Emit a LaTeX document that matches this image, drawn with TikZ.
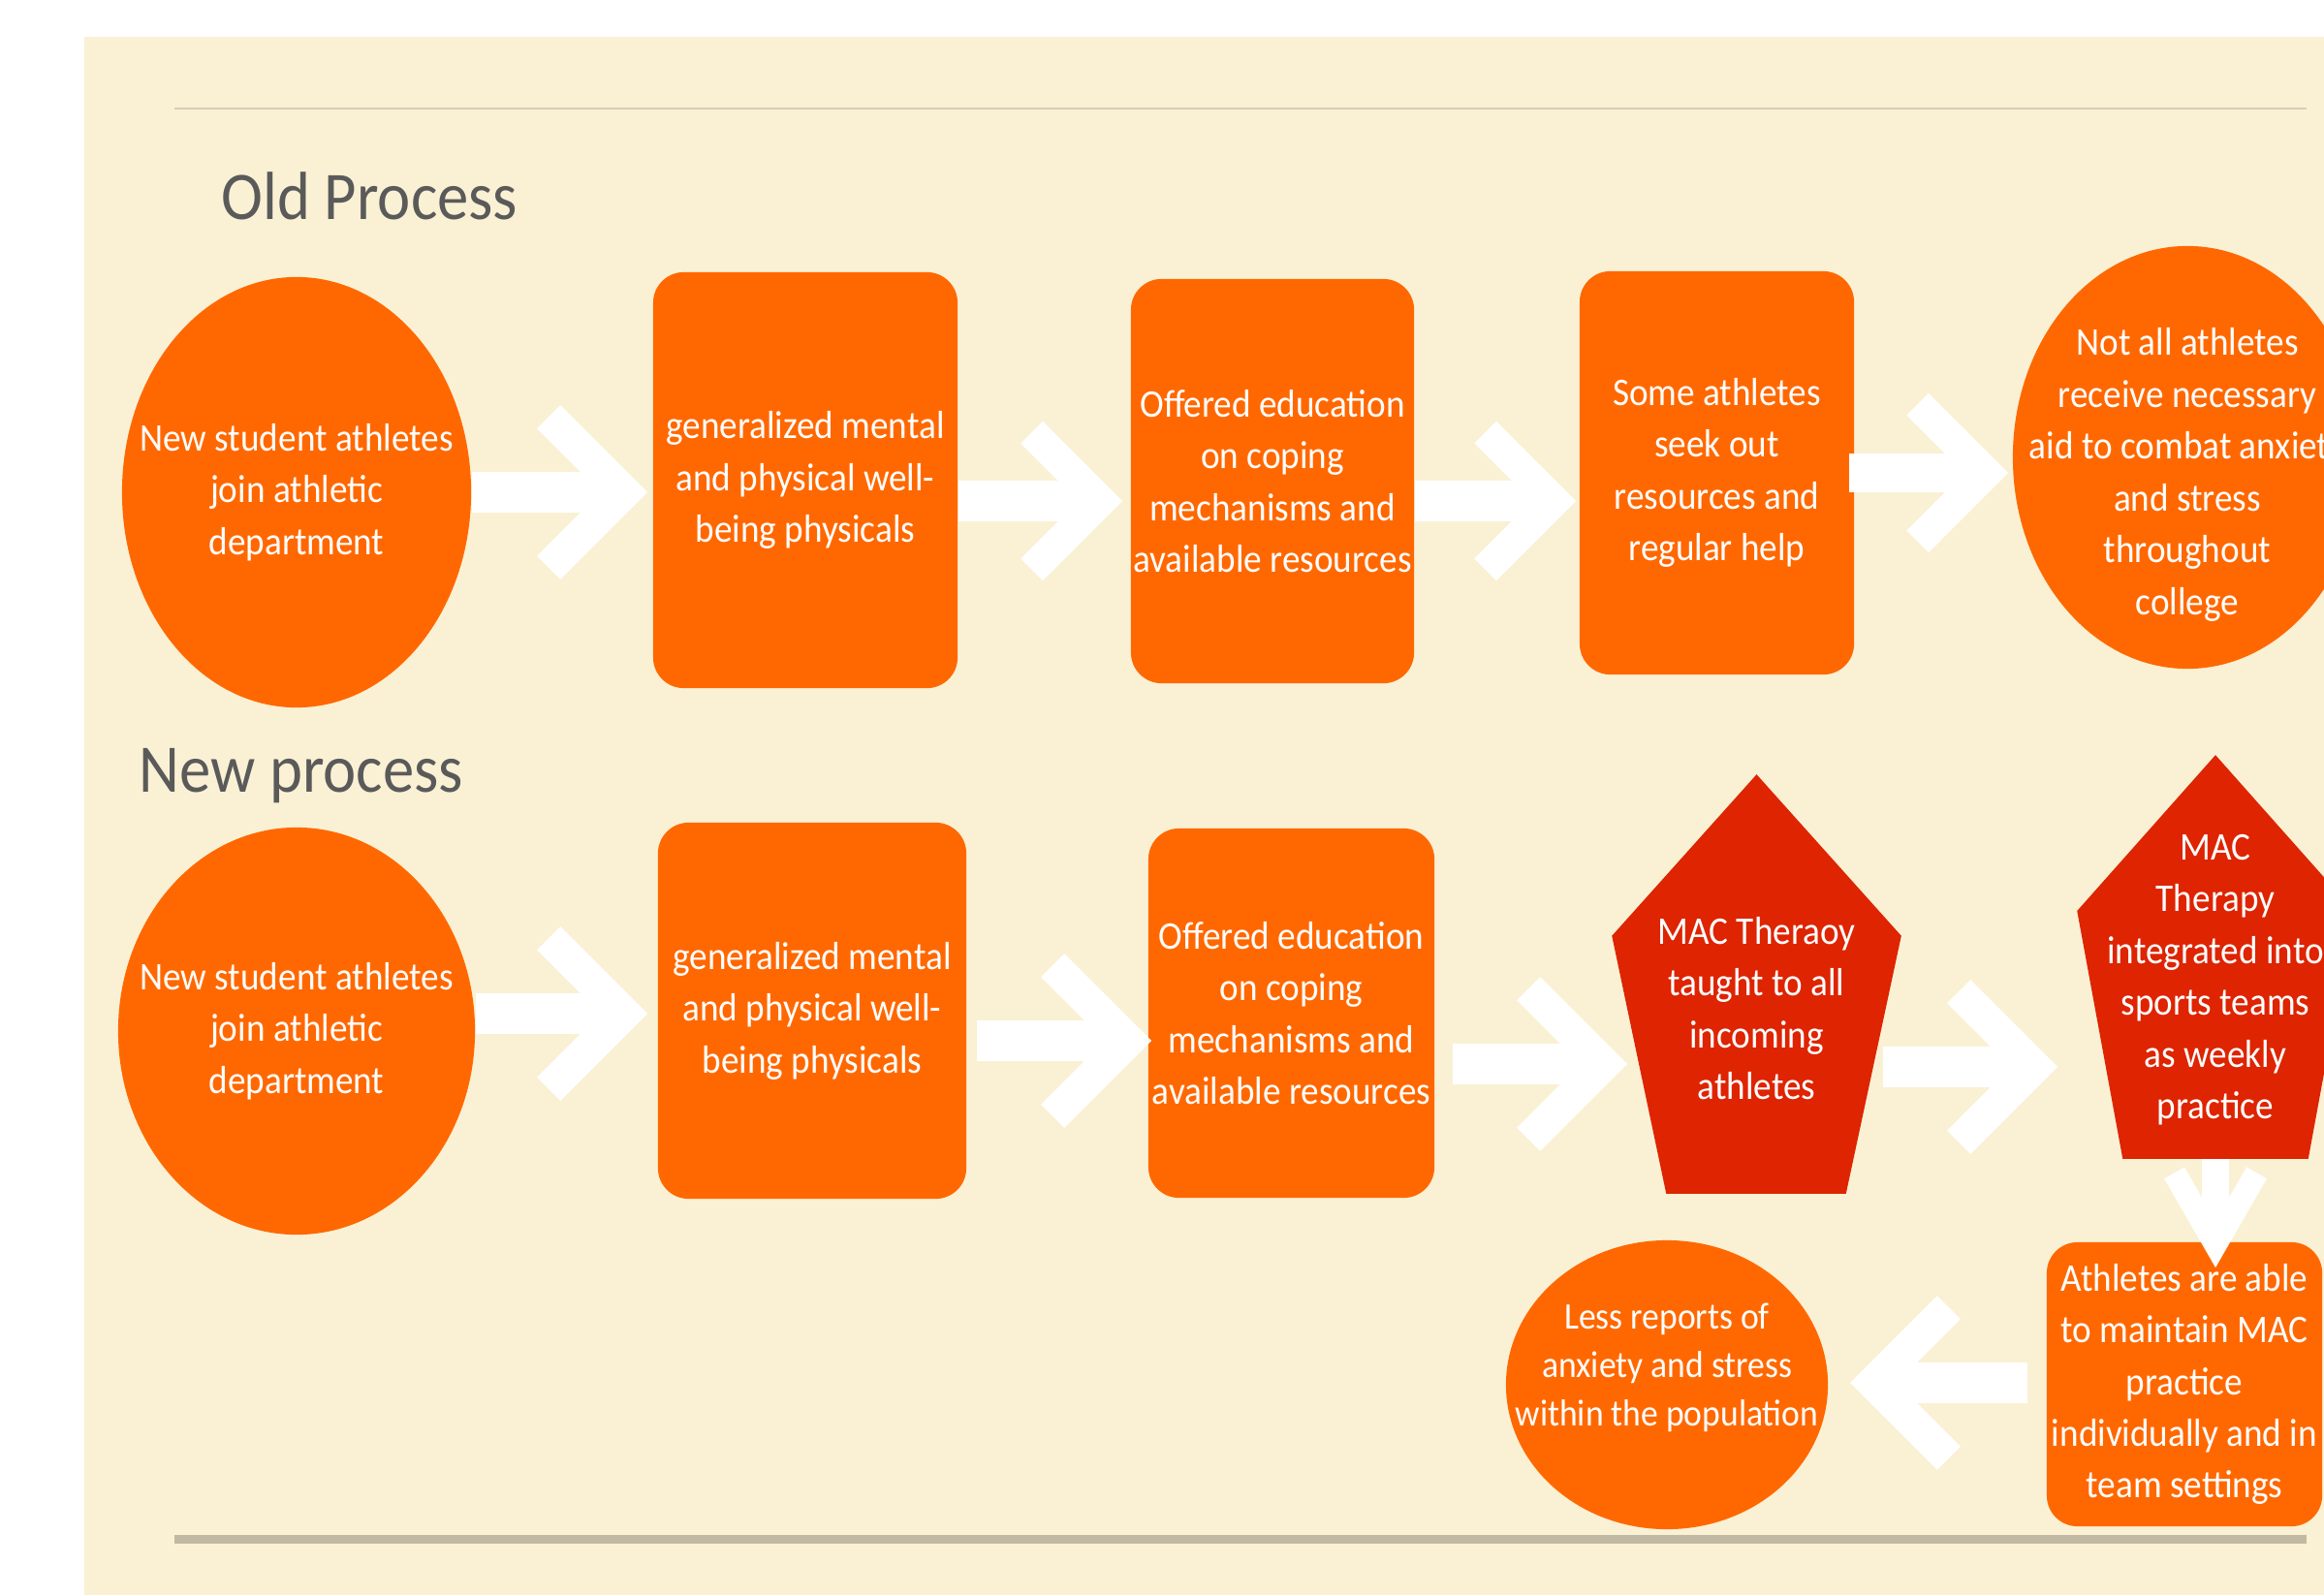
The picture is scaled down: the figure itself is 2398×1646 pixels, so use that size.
\documentclass[tikz,border=0pt]{standalone}
\usepackage{fontspec}
\setmainfont{Carlito}[FakeStretch=0.92]
\usetikzlibrary{shapes.geometric,calc}

\definecolor{paper}{RGB}{250,241,212}
\definecolor{flame}{RGB}{255,104,0}
\definecolor{macred}{RGB}{222,36,0}
\definecolor{titlegray}{RGB}{90,90,90}
\definecolor{rulelight}{RGB}{214,206,184}
\definecolor{ruledark}{RGB}{193,185,162}

% one drawing unit = 0.01cm
\newcommand\pxw{0.28453pt}
\newcommand\nodefont{\fontsize{11.5pt}{15.2pt}\selectfont}
\newcommand\smallnodefont{\fontsize{11pt}{14.2pt}\selectfont}
\newcommand\headfont{\fontsize{20pt}{24pt}\selectfont}

% white block arrow: shaft plus open chevron head
% [#1] extra shaft options, #2 start, #3 outer tip, #4 direction (deg),
% #5 shaft width, #6 chevron stroke width, #7 chevron arm length, #8 chevron half-angle
\newcommand\flowarrow[8][]{%
  \path (#3) ++(#4+180:{0.5*#6/sin(#8)}) coordinate (fa-v);
  \draw[arrowbody, line width=#5*\pxw, #1] (#2) -- (fa-v);
  \draw[arrowbody, line width=#6*\pxw]
    ($(fa-v)+(#4+180-#8:#7)$) -- (fa-v) -- ($(fa-v)+(#4+180+#8:#7)$);
}

\begin{document}
\begin{tikzpicture}[x=0.01cm, y=-0.01cm,
  ell/.style={ellipse, fill=flame, inner sep=0pt},
  box/.style={rectangle, rounded corners=9pt, fill=flame, inner sep=0pt,
              text=white, align=center, font=\nodefont},
  lbl/.style={text=white, align=center, font=\nodefont, inner sep=0pt},
  heading/.style={text=titlegray, font=\headfont, anchor=base west, inner sep=0pt},
  arrowbody/.style={draw=white, line cap=butt, line join=miter, miter limit=10}]

\useasboundingbox (0,0) rectangle (2398,1646);
\fill[white] (0,0) rectangle (2398,1646);
\fill[paper] (87,38) rectangle (2398,1646);

% rules
\draw[rulelight, line width=2*\pxw] (180,112) -- (2380,112);
\draw[ruledark, line width=9*\pxw] (180,1588) -- (2380,1588);

% headings
\node[heading] (hOld) at (228,227) {Old Process};
\node[heading] (hNew) at (143,817) {New process};

% ---------------- old process ----------------
\node[ell, minimum width=3.6cm, minimum height=4.44cm,
  label={[lbl]center:{New student athletes\\join athletic\\department}}]
  (o1) at (306,508) {};
\node[box, minimum width=3.14cm, minimum height=4.29cm] (o2) at (831,495.5)
  {generalized mental\\and physical well-\\being physicals};
\node[box, minimum width=2.92cm, minimum height=4.17cm] (o3) at (1313,496.5)
  {Offered education\\on coping\\mechanisms and\\available resources};
\node[box, minimum width=2.83cm, minimum height=4.16cm] (o4) at (1771.5,488)
  {Some athletes\\seek out\\resources and\\regular help};
\node[ell, minimum width=3.6cm, minimum height=4.36cm,
  label={[lbl, yshift=-0.18cm]center:{Not all athletes\\receive necessary\\aid to combat anxiety\\and stress\\throughout\\college}}]
  (o5) at (2257,472) {};

% ---------------- new process ----------------
\node[ell, minimum width=3.68cm, minimum height=4.2cm,
  label={[lbl]center:{New student athletes\\join athletic\\department}}]
  (n1) at (306,1064) {};
\node[box, minimum width=3.18cm, minimum height=3.88cm] (n2) at (838,1043)
  {generalized mental\\and physical well-\\being physicals};
\node[box, minimum width=2.95cm, minimum height=3.81cm] (n3) at (1332.5,1045.5)
  {Offered education\\on coping\\mechanisms and\\available resources};

% pentagons
\node[inner sep=0pt, minimum width=2.97cm, minimum height=4.31cm] (n4) at (1812.5,1015.5) {};
\fill[macred] (n4.north) -- ($(n4.north west)!0.385!(n4.south west)$)
  -- ([xshift=0.56cm]n4.south west) -- ([xshift=-0.57cm]n4.south east)
  -- ($(n4.north east)!0.385!(n4.south east)$) -- cycle;
\node[lbl, yshift=-0.25cm] (n4t) at (n4.center)
  {MAC Theraoy\\taught to all\\incoming\\athletes};

\node[inner sep=0pt, minimum width=2.84cm, minimum height=4.15cm] (n5) at (2286,987.5) {};
\fill[macred] (n5.north) -- ($(n5.north west)!0.386!(n5.south west)$)
  -- ([xshift=0.47cm]n5.south west) -- ([xshift=-0.47cm]n5.south east)
  -- ($(n5.north east)!0.386!(n5.south east)$) -- cycle;
\node[lbl, yshift=-0.235cm] (n5t) at (n5.center)
  {MAC\\Therapy\\integrated into\\sports teams\\as weekly\\practice};

\node[box, minimum width=2.84cm, minimum height=2.93cm] (n6) at (2254,1428.5)
  {Athletes are able\\to maintain MAC\\practice\\individually and in\\team settings};
\node[ell, minimum width=3.32cm, minimum height=2.98cm,
  label={[lbl, font=\smallnodefont, yshift=0.18cm]center:{Less reports of\\anxiety and stress\\within the population}}]
  (n7) at (1720,1429) {};

% ---------------- arrows ----------------
\coordinate (ta1) at (668,508);
\coordinate (ta2) at (1158,517);
\coordinate (ta3) at (1626,517);
\coordinate (ta4) at (2072,488);
\coordinate (tb1) at (668,1046);
\coordinate (tb2) at (1188,1074);
\coordinate (tb3) at (1679,1098);
\coordinate (tb4) at (2123,1101);
\coordinate (tb5) at (2286,1308);
\coordinate (tb6) at (1909,1427);

\flowarrow{o1.east |- ta1}{ta1}{0}{42}{34}{110}{45}
\flowarrow{o2.east |- ta2}{ta2}{0}{42}{32}{100}{45}
\flowarrow{o3.east |- ta3}{ta3}{0}{42}{32}{100}{45}
\flowarrow[shorten <=-6*\pxw]{o4.east |- ta4}{ta4}{0}{40}{32}{100}{45}

\flowarrow{n1.east |- tb1}{tb1}{0}{42}{34}{110}{45}
\flowarrow[shorten <=10*\pxw]{n2.east |- tb2}{tb2}{0}{42}{34}{110}{45}
\flowarrow[shorten <=18*\pxw]{n3.east |- tb3}{tb3}{0}{42}{34}{110}{45}
\flowarrow[shorten <=-19*\pxw]{n4.east |- tb4}{tb4}{0}{42}{34}{110}{45}
\flowarrow{n5.south}{tb5}{90}{28}{24}{85}{30}
\flowarrow[shorten <=19*\pxw]{n6.west |- tb6}{tb6}{180}{42}{34}{110}{45}

\end{tikzpicture}
\end{document}
